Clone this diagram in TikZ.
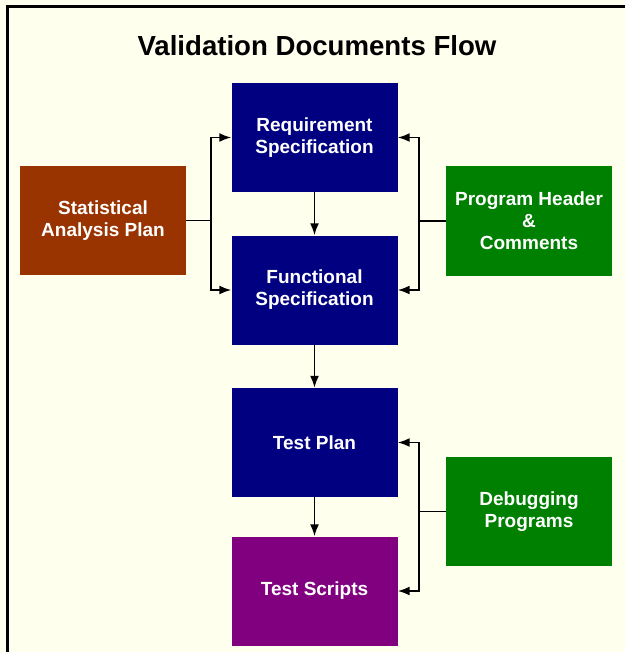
\documentclass[tikz,border=0pt]{standalone}
\usepackage{fontspec}
\setmainfont{Liberation Sans}
\usetikzlibrary{arrows.meta}
\definecolor{cream}{RGB}{255,255,238}
\definecolor{docblue}{RGB}{0,0,128}
\definecolor{docrust}{RGB}{153,51,0}
\definecolor{docgreen}{RGB}{0,128,0}
\definecolor{docpurple}{RGB}{128,0,128}
\begin{document}
\begin{tikzpicture}
[x=1pt,y=-1pt,
 doc/.style={rectangle,minimum width=166pt,minimum height=109pt,inner sep=0pt,align=center,text=white,font=\fontsize{19}{22}\selectfont\bfseries},
 wire/.style={line width=1.9pt},
 link/.style={wire,-{Latex[length=12pt,width=9pt]}}]
	\useasboundingbox (0,0) rectangle (624,652);
	\fill[cream] (-10,-10) rectangle (640,670);
	\draw[line width=3pt] (7,670) -- (7,7) -- (640,7);
	\node[font=\fontsize{27.6}{32}\selectfont\bfseries] (title) at (317,46) {Validation Documents Flow};
	% main column
	\node[doc,fill=docblue] (req) at (314.5,137.5) {Requirement\\Specification};
	\node[doc,fill=docblue] (func) at (314.5,290) {Functional\\Specification};
	\node[doc,fill=docblue] (tplan) at (314.5,442.5) {Test Plan};
	\node[doc,fill=docpurple] (tscripts) at (314.5,591) {Test Scripts};
	% side documents
	\node[doc,fill=docrust] (sap) at (103,220.5) {Statistical\\Analysis Plan};
	\node[doc,fill=docgreen] (phc) at (529,221) {Program Header\\\&\\Comments};
	\node[doc,fill=docgreen] (dbg) at (529,511.5) {Debugging\\Programs};
	\draw[wire] (sap.east) -- (211,220.5) coordinate (sapj);
	\draw[link] (sapj) |- (req.west);
	\draw[link] (sapj) |- (func.west);
	\draw[wire] (phc.west) -- (419,221) coordinate (phcj);
	\draw[link] (phcj) |- (req.east);
	\draw[link] (phcj) |- (func.east);
	\draw[wire] (dbg.west) -- (419,511.5) coordinate (dbgj);
	\draw[link] (dbgj) |- (tplan.east);
	\draw[link] (dbgj) |- (tscripts.east);
	\draw[link] (req) -- (func);
	\draw[link] (func) -- (tplan);
	\draw[link] (tplan) -- (tscripts);
\end{tikzpicture}
\end{document}
